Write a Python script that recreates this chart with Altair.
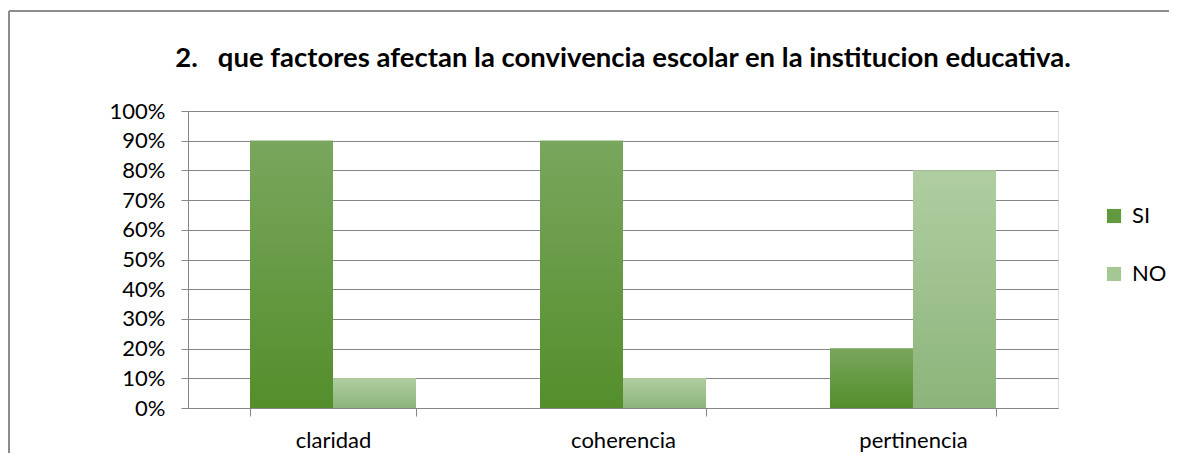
import altair as alt
import pandas as pd

categories = ["claridad", "coherencia", "pertinencia"]
series = ["SI", "NO"]
si_values = [0.9, 0.9, 0.2]
no_values = [0.1, 0.1, 0.8]
y_ticks = [0.0, 0.1, 0.2, 0.3, 0.4, 0.5, 0.6, 0.7, 0.8, 0.9, 1.0]
title_text = "2.\u00a0\u00a0 que factores afectan la convivencia escolar en la institucion educativa."

rows = []
for c, s, n in zip(categories, si_values, no_values):
    rows.append({"categoria": c, "serie": "SI", "valor": s})
    rows.append({"categoria": c, "serie": "NO", "valor": n})
df = pd.DataFrame(rows)

FONT = "Lato"
W, H = 870, 297
PAD_L, PAD_T, PAD_R, PAD_B = 180, 103, 111, 45

grad_si = alt.Gradient(
    gradient="linear",
    stops=[alt.GradientStop(color="#79a65d", offset=0), alt.GradientStop(color="#548e2b", offset=1)],
    x1=0, x2=0, y1=0, y2=1,
)
grad_no = alt.Gradient(
    gradient="linear",
    stops=[alt.GradientStop(color="#b0cea1", offset=0), alt.GradientStop(color="#8cb47a", offset=1)],
    x1=0, x2=0, y1=0, y2=1,
)

x_enc = alt.X(
    "categoria:N",
    sort=categories,
    title=None,
    scale=alt.Scale(paddingInner=0.428, paddingOuter=0.214),
    axis=alt.Axis(
        tickBand="extent",
        labelAngle=0,
        labelFontSize=22,
        labelFont=FONT,
        labelColor="#000000",
        labelPadding=14,
        tickSize=8,
        tickColor="#868686",
        domainColor="#868686",
        grid=False,
    ),
)
y_enc = alt.Y(
    "valor:Q",
    title=None,
    scale=alt.Scale(domain=[0, 1], nice=False),
    axis=alt.Axis(
        values=y_ticks,
        format=".0%",
        labelFontSize=22,
        labelFont=FONT,
        labelColor="#000000",
        labelPadding=16,
        labelOverlap=False,
        tickSize=7,
        tickColor="#868686",
        domainColor="#868686",
        gridColor="#868686",
        gridWidth=1,
    ),
)
xoff = alt.XOffset("serie:N", sort=series, scale=alt.Scale(domain=series, paddingInner=0, paddingOuter=0))

base = alt.Chart(df).mark_bar().encode(
    x=x_enc,
    y=y_enc,
    xOffset=xoff,
    color=alt.Color(
        "serie:N",
        sort=series,
        scale=alt.Scale(domain=series, range=["#62993f", "#a5c794"]),
        legend=alt.Legend(
            title=None,
            orient="none",
            legendX=915,
            legendY=94,
            symbolType="square",
            symbolSize=200,
            symbolStrokeWidth=0,
            labelFontSize=22,
            labelFont=FONT,
            labelColor="#000000",
            rowPadding=36,
            labelOffset=7,
        ),
    ),
)

si_layer = alt.Chart(df).transform_filter(alt.datum.serie == "SI").mark_bar(fill=grad_si).encode(
    x=x_enc, y=y_enc, xOffset=xoff
)
no_layer = alt.Chart(df).transform_filter(alt.datum.serie == "NO").mark_bar(fill=grad_no).encode(
    x=x_enc, y=y_enc, xOffset=xoff
)

frame_df = pd.DataFrame({"k": [0]})
frame_top = alt.Chart(frame_df).mark_rule(color="#8c8c8c", strokeWidth=2).encode(
    x=alt.value(-179), x2=alt.value(W + PAD_R), y=alt.value(-100)
)
frame_left = alt.Chart(frame_df).mark_rule(color="#8c8c8c", strokeWidth=2).encode(
    x=alt.value(-179), y=alt.value(-100), y2=alt.value(H + PAD_B)
)

chart = (
    alt.layer(base, si_layer, no_layer, frame_top, frame_left)
    .properties(
        width=W,
        height=H,
        title=alt.TitleParams(
            text=title_text,
            font=FONT,
            fontSize=27.5,
            fontWeight="bold",
            color="#000000",
            anchor="middle",
            baseline="alphabetic",
            offset=-84,
        ),
        autosize=alt.AutoSizeParams(type="none"),
        padding={"left": PAD_L, "top": PAD_T, "right": PAD_R, "bottom": PAD_B},
    )
    .configure_view(stroke=None)
    .configure(background="#ffffff")
)

chart.save("out.html", embed_options={"renderer": "svg", "actions": False})
